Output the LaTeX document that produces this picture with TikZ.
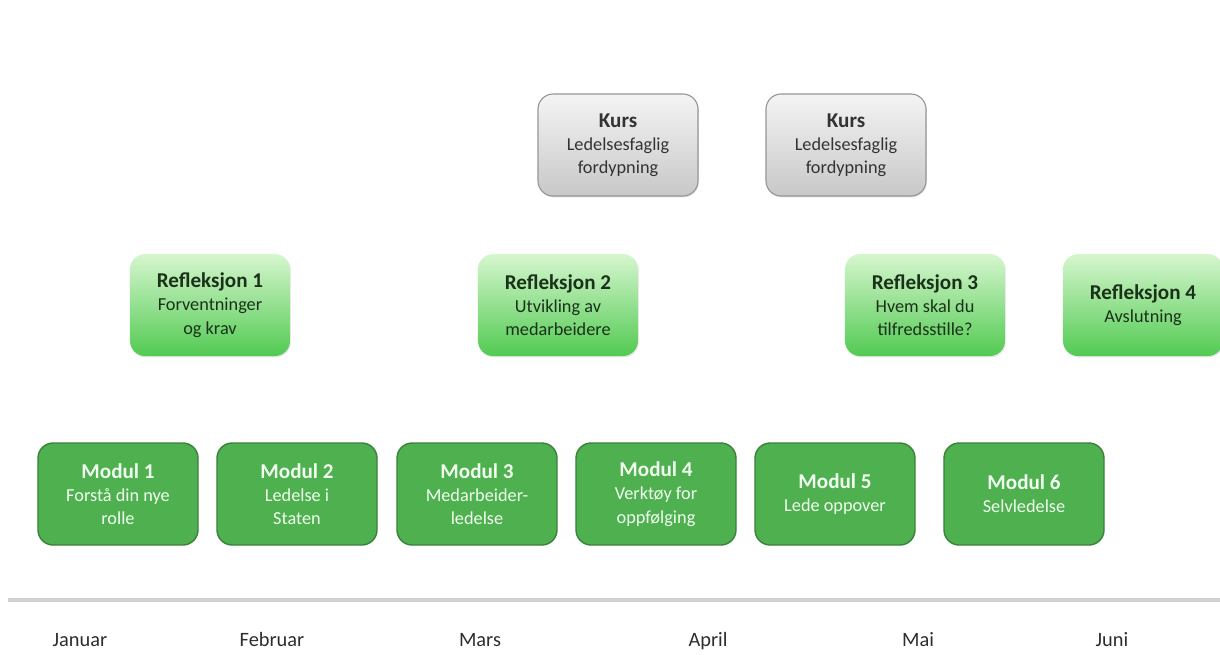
\documentclass[tikz,border=0pt]{standalone}
\usepackage{fontspec}
\setmainfont{Carlito}
\usepackage{tikz}
\usetikzlibrary{shadows}

\definecolor{kursTop}{RGB}{244,244,244}
\definecolor{kursBot}{RGB}{200,200,200}
\definecolor{kursLine}{RGB}{150,150,150}
\definecolor{reflTop}{RGB}{214,246,206}
\definecolor{reflBot}{RGB}{82,202,82}
\definecolor{reflText}{RGB}{25,50,25}
\definecolor{modulFill}{RGB}{78,176,78}
\definecolor{modulLine}{RGB}{58,130,58}
\definecolor{monthText}{RGB}{45,45,45}

\newcommand{\boxtitle}[1]{{\fontsize{15}{16.5}\selectfont\bfseries #1}}

\begin{document}
\begin{tikzpicture}[x=0.025cm,y=-0.025cm,
  box/.style={rounded corners=0.38cm, minimum width=4cm, minimum height=2.55cm,
    align=center, font=\fontsize{13}{16.5}\selectfont, inner sep=2pt},
  kurs/.style={box, draw=kursLine, line width=0.8pt, top color=kursTop, bottom color=kursBot,
    text=black!80, drop shadow={opacity=0.25, shadow xshift=0.5pt, shadow yshift=-1pt}},
  refl/.style={box, top color=reflTop, bottom color=reflBot, text=reflText,
    drop shadow={opacity=0.2, shadow xshift=0.5pt, shadow yshift=-1pt}},
  modul/.style={box, fill=modulFill, draw=modulLine, line width=1pt, text=white!94!green},
  month/.style={anchor=base, font=\fontsize{14.5}{16}\selectfont, text=monthText}]
\useasboundingbox (0,0) rectangle (1220,654);

\node[kurs] (K1) at (618,145) {\boxtitle{Kurs}\\Ledelsesfaglig\\fordypning};
\node[kurs] (K2) at (846,145) {\boxtitle{Kurs}\\Ledelsesfaglig\\fordypning};

\node[refl] (R1) at (210,305) {\boxtitle{Refleksjon 1}\\Forventninger\\og krav};
\node[refl] (R2) at (558,305) {\boxtitle{Refleksjon 2}\\Utvikling av\\medarbeidere};
\node[refl] (R3) at (925,305) {\boxtitle{Refleksjon 3}\\Hvem skal du\\tilfredsstille?};
\node[refl] (R4) at (1143,305) {\boxtitle{Refleksjon 4}\\Avslutning};

\node[modul] (M1) at (118,494) {\boxtitle{Modul 1}\\Forstå din nye\\rolle};
\node[modul] (M2) at (297,494) {\boxtitle{Modul 2}\\Ledelse i\\Staten};
\node[modul] (M3) at (477,494) {\boxtitle{Modul 3}\\Medarbeider-\\ledelse};
\node[modul] (M4) at (656,494) {\boxtitle{Modul 4}\\Verktøy for\\oppfølging};
\node[modul] (M5) at (835,494) {\boxtitle{Modul 5}\\Lede oppover};
\node[modul] (M6) at (1024,494) {\boxtitle{Modul 6}\\Selvledelse};

% tidslinje
\coordinate (T0) at (8,600);
\coordinate (T1) at (1220,600);
\draw[line width=2.5pt, black!18] (T0) -- (T1);

\node[month] (Jan) at (80,646) {Januar};
\node[month] (Feb) at (272,646) {Februar};
\node[month] (Mar) at (480,646) {Mars};
\node[month] (Apr) at (708,646) {April};
\node[month] (Mai) at (918,646) {Mai};
\node[month] (Jun) at (1112,646) {Juni};
\end{tikzpicture}
\end{document}
